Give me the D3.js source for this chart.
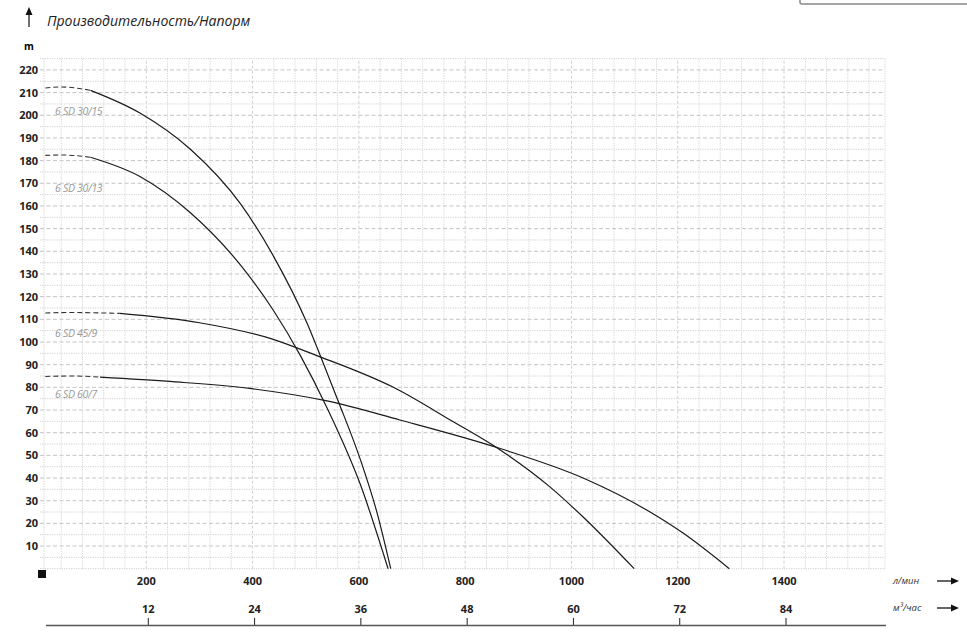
<!DOCTYPE html>
<html><head><meta charset="utf-8">
<script src="https://cdn.jsdelivr.net/npm/d3@7"></script>
<style>body{margin:0;background:#fff}svg{font-family:"Open Sans",sans-serif}</style>
</head><body><svg id="c" width="967" height="636"></svg>
<script>
const flowTicks=[200,400,600,800,1000,1200,1400];
const m3Ticks=[12,24,36,48,60,72,84];
const headTicks=[10,20,30,40,50,60,70,80,90,100,110,120,130,140,150,160,170,180,190,200,210,220];
const seriesNames=["6 SD 30/15","6 SD 30/13","6 SD 45/9","6 SD 60/7"];
const dashed1=[[10,212],[40,212.5],[95,211]];
const solid1=[[95,211],[188,201],[283,185],[377,161],[439,138],[503,108],[524,96],[561,74],[603,48],[635,24],[660,0]];
const dashed2=[[10,182.3],[40,182.5],[95,181.5]];
const solid2=[[95,181.5],[188,173],[283,157],[377,134],[439,114],[490,94],[540,71],[603,37],[655,0]];
const dashed3=[[10,112.8],[60,113],[150,112.6]];
const solid3=[[150,112.6],[300,108.5],[433,101.6],[521,94],[665,80],[772,65.6],[866,52.4],[960,36],[1022,22.8],[1118,0]];
const dashed4=[[10,84.8],[60,85],[113,84.5]];
const solid4=[[113,84.5],[250,82.5],[395,79.5],[540,74],[677,65.6],[866,53],[1022,40],[1148,25],[1210,15.7],[1297,0]];
const labelHeads=[202,168,104,77];

const svg=d3.select("#c");
const x=d3.scaleLinear().domain([0,1590]).range([40,885]);
const y=d3.scaleLinear().domain([0,225]).range([568.7,58.6]);

const g=svg.append("g");
d3.range(5,226,5).forEach(v=>{
  g.append("line").attr("x1",x(0)).attr("x2",x(1590)).attr("y1",y(v)).attr("y2",y(v))
   .attr("stroke",v%10===0?"#c4c4c4":"#d0d0d0").attr("stroke-width",1)
   .attr("stroke-dasharray",v%10===0?"4,2.5":"1.2,1.2");
});
d3.range(40,1590,40).concat([1590]).forEach(v=>{
  g.append("line").attr("y1",y(0)).attr("y2",y(225)).attr("x1",x(v)).attr("x2",x(v))
   .attr("stroke",v%200===0?"#d0d0d0":"#d4d4d4").attr("stroke-width",1)
   .attr("stroke-dasharray",v%200===0?"3,2":"1.2,1.2");
});
g.append("line").attr("x1",x(0)+4).attr("x2",x(0)+4).attr("y1",y(0)).attr("y2",y(225)).attr("stroke","#d2d2d2").attr("stroke-dasharray","1.2,1.2");
g.append("line").attr("x1",x(0)).attr("x2",x(1590)).attr("y1",y(0)).attr("y2",y(0)).attr("stroke","#cfcfcf").attr("stroke-dasharray","1.2,1.2");

const line=d3.line().x(d=>x(d[0])).y(d=>y(d[1])).curve(d3.curveMonotoneX);
[[dashed1,solid1],[dashed2,solid2],[dashed3,solid3],[dashed4,solid4]].forEach(([d,s],i)=>{
  g.append("path").attr("d",line(d)).attr("fill","none").attr("stroke","#333").attr("stroke-width",1.1).attr("stroke-dasharray","5,3");
  g.append("path").attr("d",line(s)).attr("fill","none").attr("stroke","#1a1a1a").attr("stroke-width",1.2);
  g.append("text").attr("x",55).attr("y",y(labelHeads[i])+4).text(seriesNames[i])
   .attr("font-size",10.5).attr("font-style","italic").attr("fill","#999").attr("letter-spacing","-0.3");
});

headTicks.forEach(v=>g.append("text").attr("x",38).attr("y",y(v)+4).attr("text-anchor","end")
  .attr("font-size",11).attr("font-weight","bold").attr("fill","#222").text(v));
g.append("text").attr("x",24).attr("y",50).attr("font-size",10).attr("font-weight","bold").text("m");
g.append("line").attr("x1",29).attr("x2",29).attr("y1",27).attr("y2",13).attr("stroke","#111").attr("stroke-width",1.2);
g.append("path").attr("d","M25.5,15 L29,7 L32.5,15 Z").attr("fill","#111");
g.append("text").attr("x",47).attr("y",26).attr("font-size",14).attr("font-style","italic").attr("fill","#222").text("Производительность/Напорм");

g.append("rect").attr("x",38).attr("y",570).attr("width",8).attr("height",8).attr("fill","#111");
flowTicks.forEach(v=>g.append("text").attr("x",x(v)).attr("y",585).attr("text-anchor","middle")
  .attr("font-size",11).attr("font-weight","bold").attr("fill","#222").text(v));
m3Ticks.forEach(v=>{
  const px=x(v*1000/60)+2;
  g.append("text").attr("x",px).attr("y",613).attr("text-anchor","middle")
   .attr("font-size",11).attr("font-weight","bold").attr("fill","#222").text(v);
  g.append("line").attr("x1",px).attr("x2",px).attr("y1",618).attr("y2",625).attr("stroke","#222");
});
g.append("line").attr("x1",46).attr("x2",886).attr("y1",625.5).attr("y2",625.5).attr("stroke","#555").attr("stroke-width",1.5);
[["л/мин",584],["м³/час",611]].forEach(([t,yy])=>{
  g.append("text").attr("x",893).attr("y",yy).attr("font-size",9.5).attr("font-style","italic").attr("fill","#333").text(t);
  g.append("line").attr("x1",937).attr("x2",953).attr("y1",yy-3).attr("y2",yy-3).attr("stroke","#111").attr("stroke-width",1.3);
  g.append("path").attr("d",`M951,${yy-6.5} L959,${yy-3} L951,${yy+0.5} Z`).attr("fill","#111");
});
g.append("rect").attr("x",800).attr("y",-6).attr("width",172).attr("height",10).attr("rx",2)
  .attr("fill","#fff").attr("stroke","#888").attr("stroke-width",1.5);
</script></body></html>
